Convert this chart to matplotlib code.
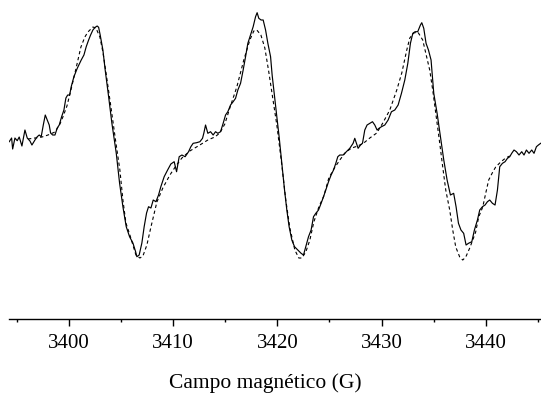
import numpy as np
import matplotlib
matplotlib.use("Agg")
import matplotlib.pyplot as plt
from matplotlib.ticker import MultipleLocator

# espectro experimental (campo en G, intensidad en u.a.)
campo_exp = [3394.27, 3394.50, 3394.60, 3394.82, 3395.04, 3395.23, 3395.49, 3395.78, 3396.00, 3396.26,
             3396.45, 3396.74, 3396.96, 3397.15, 3397.34, 3397.54, 3397.73, 3397.92, 3398.11, 3398.24,
             3398.44, 3398.66, 3398.88, 3399.07, 3399.30, 3399.52, 3399.71, 3399.88, 3400.07, 3400.22,
             3400.48, 3400.80, 3401.03, 3401.18, 3401.44, 3401.66, 3401.89, 3402.08, 3402.30, 3402.52,
             3402.71, 3402.85, 3403.00, 3403.26, 3403.48, 3403.81, 3404.12, 3404.54, 3404.86, 3405.18,
             3405.50, 3405.82, 3406.14, 3406.40, 3406.52, 3406.74, 3407.00, 3407.22, 3407.45, 3407.64,
             3407.87, 3408.09, 3408.35, 3408.60, 3408.82, 3409.14, 3409.47, 3409.78, 3410.10, 3410.33,
             3410.58, 3410.84, 3411.15, 3411.48, 3411.70, 3411.92, 3412.25, 3412.57, 3412.82, 3412.95,
             3413.11, 3413.33, 3413.59, 3413.84, 3414.07, 3414.29, 3414.55, 3414.80, 3415.03, 3415.25,
             3415.51, 3415.76, 3415.99, 3416.21, 3416.47, 3416.72, 3416.95, 3417.17, 3417.43, 3417.68,
             3417.91, 3418.06, 3418.22, 3418.44, 3418.64, 3418.87, 3419.09, 3419.35, 3419.50, 3419.73,
             3419.95, 3420.17, 3420.43, 3420.69, 3420.91, 3421.13, 3421.39, 3421.65, 3421.97, 3422.28,
             3422.51, 3422.73, 3422.99, 3423.24, 3423.47, 3423.69, 3423.95, 3424.20, 3424.43, 3424.65,
             3424.91, 3425.16, 3425.39, 3425.61, 3425.80, 3425.99, 3426.31, 3426.63, 3426.95, 3427.27,
             3427.43, 3427.59, 3427.75, 3427.98, 3428.17, 3428.39, 3428.61, 3428.87, 3429.13, 3429.35,
             3429.57, 3429.76, 3429.99, 3430.31, 3430.63, 3430.95, 3431.27, 3431.59, 3431.91, 3432.23,
             3432.52, 3432.77, 3433.00, 3433.22, 3433.47, 3433.73, 3433.86, 3434.05, 3434.27, 3434.50,
             3434.75, 3435.01, 3435.33, 3435.65, 3435.97, 3436.29, 3436.61, 3436.92, 3437.15, 3437.38,
             3437.62, 3437.88, 3438.11, 3438.34, 3438.66, 3438.91, 3439.20, 3439.42, 3439.68, 3439.93,
             3440.16, 3440.38, 3440.64, 3440.89, 3441.12, 3441.34, 3441.60, 3441.85, 3442.08, 3442.30,
             3442.49, 3442.71, 3442.94, 3443.19, 3443.45, 3443.67, 3443.90, 3444.15, 3444.41, 3444.63,
             3444.86, 3445.05, 3445.27]
senal_exp = [-1.7, 2, -9, 2, -0.7, 3, -6, 10, 2, -1,
             -5, 0, 3.3, 5, 3.3, 15, 25, 20, 15, 7,
             5, 5, 12, 15, 23.3, 30, 42, 45, 45, 53.3,
             63.3, 71.7, 76.7, 80, 85, 93.3, 100, 105, 110, 112.7,
             114, 112.7, 105, 90, 70, 43.3, 17, -13, -43, -66.7,
             -86.7, -96.7, -103, -111.7, -116.7, -115, -103, -86.7, -73, -66.7,
             -68, -60, -61.7, -55, -46.7, -36.7, -30, -24, -21.7, -31.7,
             -16.7, -15, -16.7, -11.7, -6.7, -3.3, -2.7, -1.7, 1.7, 7,
             15, 6.7, 8.3, 5, 8.3, 6.7, 8.3, 16.7, 25, 28.3,
             35, 38.3, 41.7, 50, 56.7, 70, 83.3, 96.7, 105, 113.3,
             123.3, 127.3, 121.7, 120, 120, 110, 96.7, 83.3, 65, 43.3,
             23.3, 3.3, -23.3, -50, -70, -86.7, -100, -106.7, -110, -113.3,
             -115, -106.7, -96.7, -90, -76.7, -73.3, -70, -63.3, -56.7, -50,
             -41.7, -35, -30, -23.3, -16.7, -15, -15, -11.7, -8.3, -3.3,
             1.7, -3.3, -8.3, -5, -3.3, 10, 15, 16.7, 18.3, 15,
             10, 11.7, 13.3, 15, 20, 28.3, 30, 35, 46.7, 60,
             76.7, 96.7, 106.7, 108.3, 108.3, 115, 117.3, 111.7, 96.7, 90,
             80, 46.7, 26.7, 3.3, -20, -40, -55, -53.3, -66.7, -83.3,
             -90, -93.3, -105, -103.3, -101.7, -90, -80, -70, -66.7, -65,
             -61.7, -60, -63.3, -65, -50, -26.7, -23.3, -21.7, -18.3, -16.7,
             -13.3, -10, -11.7, -15, -11.7, -15, -10, -13.3, -10, -13.3,
             -6.7, -5, -3.3]

# espectro simulado
campo_sim = [3396.07, 3396.74, 3397.41, 3397.99, 3398.66, 3399.14, 3399.42, 3399.81, 3400.19, 3400.58,
             3401.15, 3401.53, 3401.82, 3402.30, 3402.59, 3402.97, 3403.26, 3403.55, 3404.03, 3404.51,
             3404.89, 3405.18, 3405.47, 3405.85, 3406.14, 3406.43, 3406.81, 3407.10, 3407.48, 3407.87,
             3408.44, 3409.01, 3409.69, 3410.26, 3410.84, 3411.60, 3412.56, 3413.33, 3414.00, 3414.48,
             3414.96, 3415.44, 3416.11, 3416.78, 3417.36, 3417.74, 3418.03, 3418.42, 3418.80, 3419.18,
             3419.47, 3419.95, 3420.43, 3420.81, 3421.20, 3421.68, 3422.06, 3422.35, 3422.73, 3423.12,
             3423.50, 3423.98, 3424.46, 3424.94, 3425.42, 3425.99, 3426.57, 3427.14, 3427.72, 3428.29,
             3428.87, 3429.54, 3430.12, 3430.79, 3431.46, 3431.94, 3432.42, 3432.71, 3433.09, 3433.48,
             3433.95, 3434.24, 3434.62, 3434.91, 3435.20, 3435.58, 3435.87, 3436.16, 3436.54, 3436.83,
             3437.12, 3437.50, 3437.79, 3438.08, 3438.46, 3438.75, 3439.03, 3439.32, 3439.71, 3440.00,
             3440.28, 3440.67, 3440.95, 3441.43, 3441.91, 3442.30]
senal_sim = [1, 2, 3, 5, 8, 16, 23, 34, 50, 67,
             93, 103, 108, 113, 112, 103, 88, 68, 33, -3,
             -30, -60, -83, -95, -105, -115, -118, -116, -105, -87,
             -62, -48, -35, -26, -18, -11, -5, 0, 3, 7,
             16, 32, 53, 80, 100, 109, 110, 105, 92, 68,
             48, 15, -25, -60, -88, -110, -118, -118, -112, -100,
             -82, -67, -56, -38, -29, -20, -12, -8, -6, -3,
             2, 7, 17, 30, 50, 67, 90, 102, 107, 108,
             100, 87, 70, 50, 27, -3, -27, -50, -70, -90,
             -107, -117, -120, -117, -108, -100, -92, -77, -67, -53,
             -40, -32, -27, -22, -18, -16]

plt.rcParams['font.family'] = ['Liberation Serif', 'DejaVu Serif']

fig = plt.figure(figsize=(5.41, 3.93), dpi=100)
ax = fig.add_axes([9 / 541, 0.189, 1 - 9 / 541, 0.811])

ax.plot(campo_exp, senal_exp, color='black', lw=0.85)
ax.plot(campo_sim, senal_sim, color='black', lw=0.8, linestyle=(0, (3, 2.5)))

ax.set_xlim(3394.25, 3445.3)
ax.set_ylim(-178.7, 140)

for lado in ['top', 'right', 'left']:
    ax.spines[lado].set_visible(False)
ax.spines['bottom'].set_linewidth(1.0)
ax.set_yticks([])

ax.xaxis.set_major_locator(MultipleLocator(10))
ax.xaxis.set_minor_locator(MultipleLocator(5))
ax.tick_params(axis='x', which='major', length=5, width=1.0, labelsize=15, pad=6)
ax.tick_params(axis='x', which='minor', length=2.5, width=1.0)
ax.set_xlabel('Campo magnético (G)', fontsize=15.5)
ax.xaxis.set_label_coords(0.481, -0.17)

fig.savefig('out.png', dpi=100)
